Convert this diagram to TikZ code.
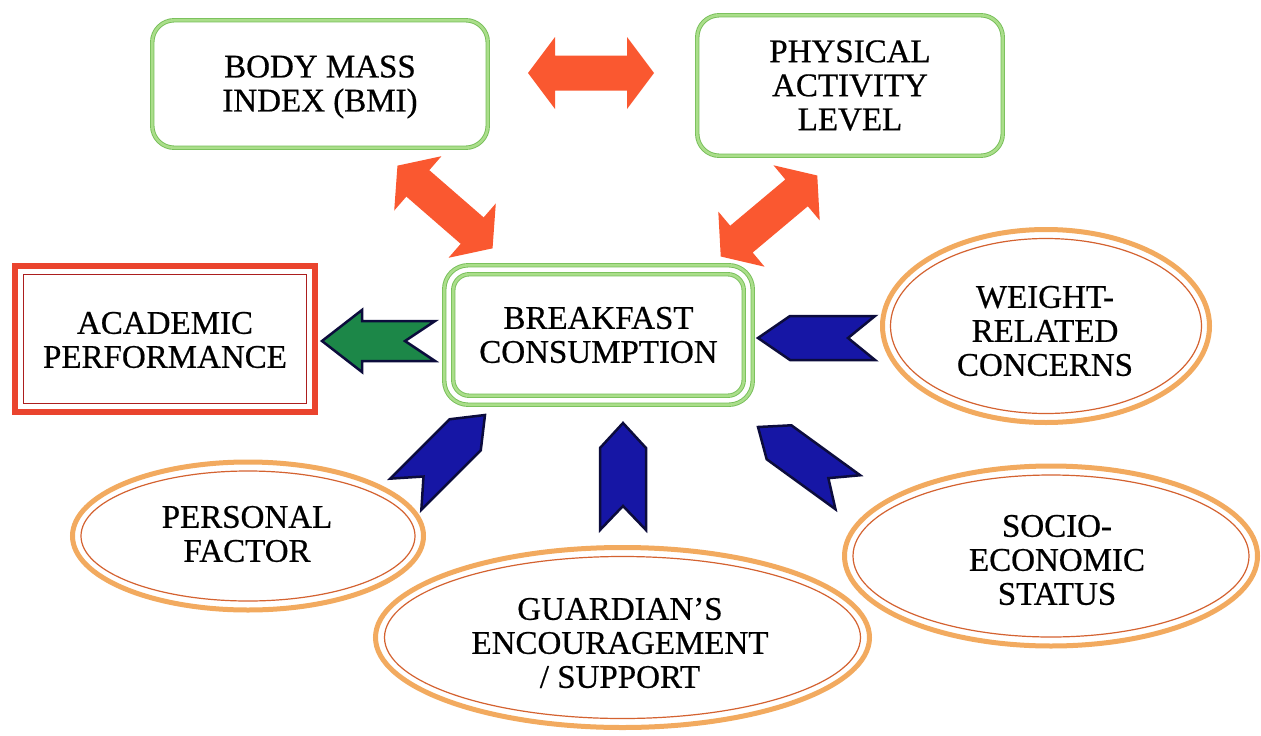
\documentclass[tikz,border=0pt]{standalone}
\usepackage{fontspec}
\setmainfont{Liberation Serif}
\newfontfamily\dtxt{Liberation Serif}[FakeBold=0.6]
\usetikzlibrary{shapes.geometric}
\definecolor{redarr}{RGB}{250,88,48}
\definecolor{bluearr}{RGB}{22,22,165}
\definecolor{navy}{RGB}{12,12,60}
\definecolor{greenarr}{RGB}{28,135,72}
\definecolor{glight}{RGB}{170,222,138}
\definecolor{gdark}{RGB}{118,190,88}
\definecolor{olight}{RGB}{242,170,95}
\definecolor{odark}{RGB}{212,98,48}
\definecolor{rband}{RGB}{234,68,46}
\definecolor{rdark}{RGB}{172,30,30}
\tikzset{
  txt/.style={align=center, font=\dtxt\fontsize{33}{34}\selectfont, inner sep=0pt, text=black},
  gbox/.style={rectangle, draw=gdark, line width=0.9pt, double=glight, double distance=2.6pt,
    rounded corners=22pt, inner sep=0pt, outer sep=0pt},
  gin/.style={draw=gdark, line width=0.9pt, double=glight, double distance=2.6pt, rounded corners=16pt},
  oval/.style={ellipse, draw=olight, line width=5pt, inner sep=0pt, outer sep=0pt},
  ovalin/.style={draw=odark, line width=1.2pt},
  chevstyle/.style={fill=bluearr, draw=navy, line width=2.5pt, line join=miter},
  pics/chev/.style args={#1/#2/#3/#4}{code={
    \path[chevstyle] (0,0) -- (-#3,{#2/2}) -- (-#1,{#2/2}) -- ({-#1+#4},0)
      -- (-#1,{-#2/2}) -- (-#3,{-#2/2}) -- cycle;}},
  pics/dblarr/.style={code={
    \fill[redarr] (-63,0) -- (-36,36) -- (-36,17.5) -- (36,17.5) -- (36,36) -- (63,0)
      -- (36,-36) -- (36,-17.5) -- (-36,-17.5) -- (-36,-36) -- cycle;}},
  pics/garr/.style={code={
    \path[fill=greenarr, draw=navy, line width=2.5pt, line join=miter]
      (0,0) -- (-40,31) -- (-40,20) -- (-113,20) -- (-83,0) -- (-113,-20)
      -- (-40,-20) -- (-40,-31) -- cycle;}}
}
\begin{document}
\begin{tikzpicture}[x=1pt,y=-1pt]
\useasboundingbox[fill=white] (0,0) rectangle (1261,736);

% top boxes
\node[gbox, minimum width=335.5, minimum height=127.5] (bmi) at (320,84) {};
\node[txt] (bmit) at (320,87) {BODY MASS\\INDEX (BMI)};
\node[gbox, txt, minimum width=305.5, minimum height=140.5] (pal) at (850,85.5) {PHYSICAL\\ACTIVITY\\LEVEL};

% breakfast
\node[gbox, txt, minimum width=308.5, minimum height=139.5, rounded corners=24pt] (bf) at (598.5,335) {BREAKFAST\\CONSUMPTION};
\draw[gin] ([shift={(9,9)}]bf.north west) rectangle ([shift={(-9,-9)}]bf.south east);

% academic
\node[rectangle, draw=rband, line width=6pt, inner sep=0pt, outer sep=0pt,
  minimum width=300, minimum height=146] (ap) at (165,339) {};
\draw[rdark, line width=1.6pt] ([shift={(8.5,8.5)}]ap.north west) rectangle ([shift={(-8.5,-8.5)}]ap.south east);
\node[txt] (apt) at (165,340) {ACADEMIC\\PERFORMANCE};

% ellipses
\node[oval, minimum width=327, minimum height=193] (wr) at (1046,326) {};
\draw[ovalin] (wr.center) ellipse [x radius=155.5, y radius=87.5];
\node[txt] (wrt) at (1045,331) {WEIGHT-\\RELATED\\CONCERNS};

\node[oval, minimum width=351, minimum height=148] (pf) at (248,536) {};
\draw[ovalin] (pf.center) ellipse [x radius=167, y radius=65];
\node[txt] (pft) at (247,534) {PERSONAL\\FACTOR};

\node[oval, minimum width=494, minimum height=180] (gd) at (622.5,637.5) {};
\draw[ovalin] (gd.center) ellipse [x radius=238, y radius=81];
\node[txt] (gdt) at (620,643) {GUARDIAN’S\\ENCOURAGEMENT\\/ SUPPORT};

\node[oval, minimum width=413, minimum height=180] (se) at (1051,556) {};
\draw[ovalin] (se.center) ellipse [x radius=198, y radius=81];
\node[txt] (set) at (1057,560) {SOCIO-\\ECONOMIC\\STATUS};

% red double arrows
\pic at (591,73) {dblarr};
\pic[rotate=-41] at (445,207) {dblarr};
\pic[rotate=40] at (769,216) {dblarr};

% green arrow
\pic[rotate=180] at (322,341) {garr};

% blue chevrons
\pic[rotate=180] at (758,338) {chev=117/44/32/27};
\pic[rotate=90] at (623,423) {chev=107/46/25/24};
\pic[rotate=45] at (485,415) {chev=112/44/28/25};
\pic[rotate=144] at (758,427) {chev=111/42/26/24};
\end{tikzpicture}
\end{document}
